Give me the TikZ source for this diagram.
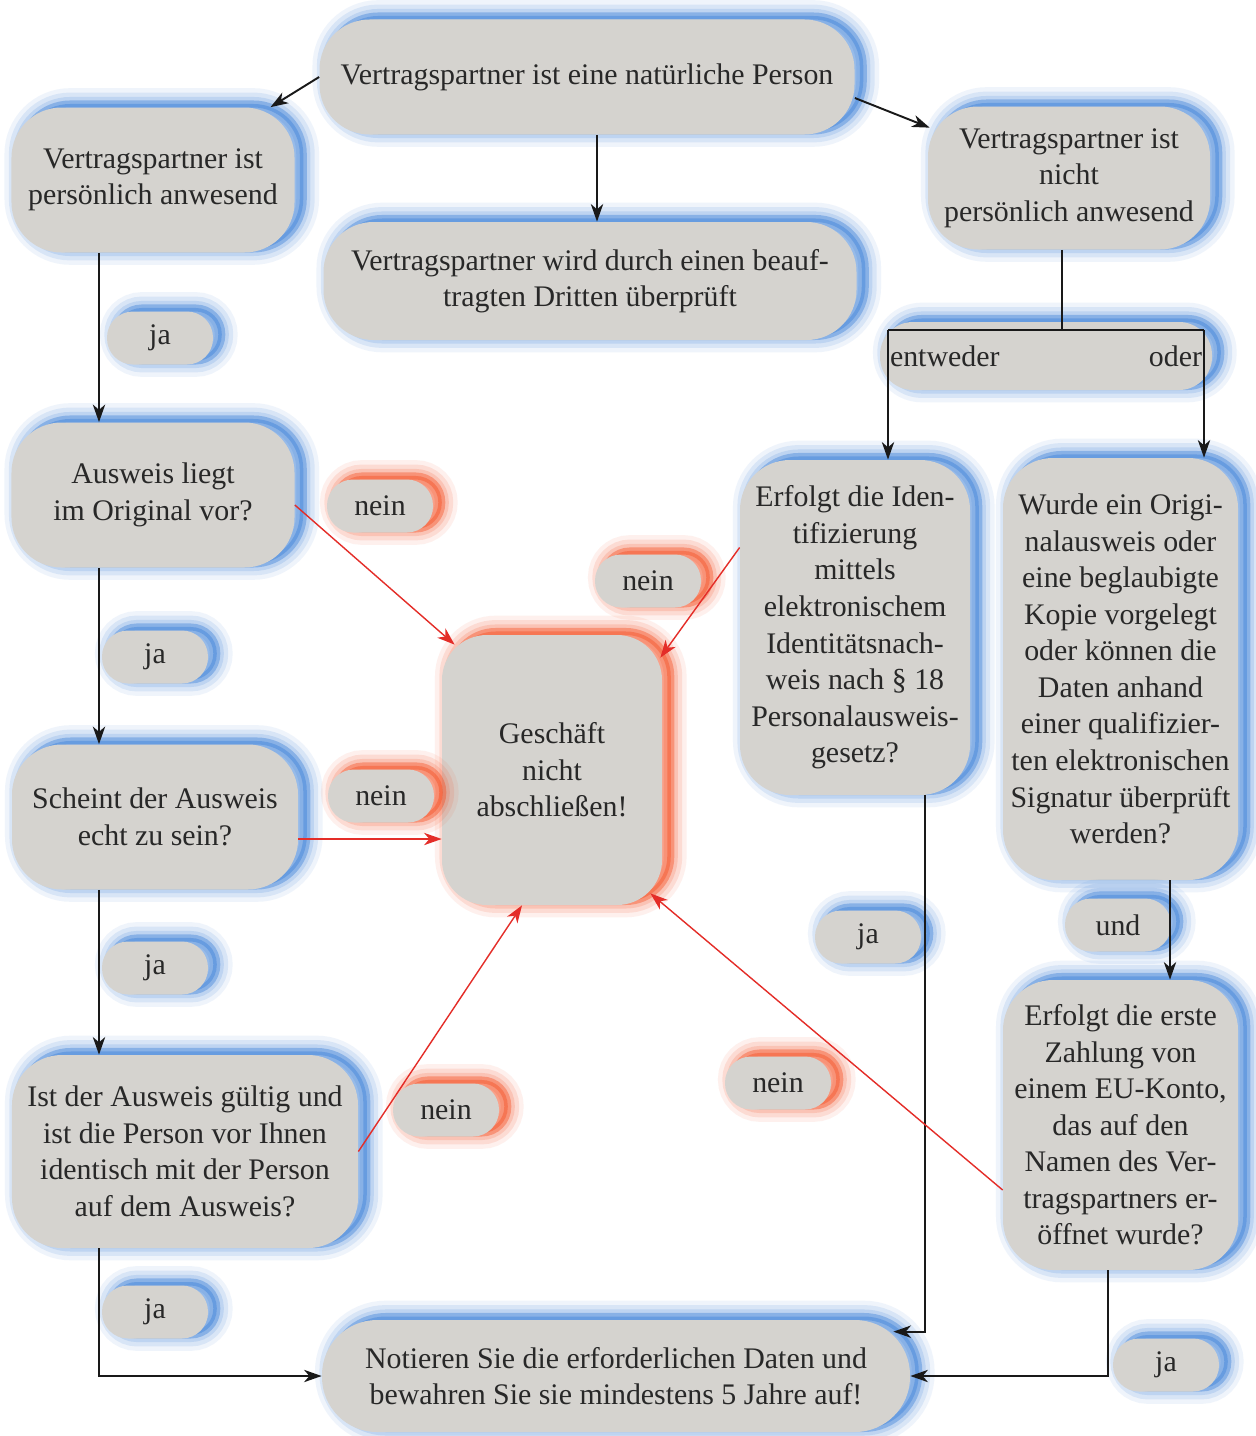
\documentclass[tikz,border=0pt]{standalone}
\usepackage{fontspec}
\setmainfont{Liberation Serif}
\definecolor{boxGrey}{RGB}{213, 211, 207}
\definecolor{glowBlue}{RGB}{55, 125, 215}
\definecolor{glowRed}{RGB}{245, 75, 30}
\definecolor{neinRed}{RGB}{228, 45, 40}
\definecolor{textGrey}{RGB}{40, 40, 40}
\usetikzlibrary{arrows.meta, calc}

\tikzset{
    glow/.style={
        preaction={draw=#1, line width=18pt, opacity=0.08, transform canvas={xshift=5pt, yshift=2pt}},
        preaction={draw=#1, line width=13pt, opacity=0.12, transform canvas={xshift=5pt, yshift=2pt}},
        preaction={draw=#1, line width=8pt, opacity=0.16, transform canvas={xshift=5pt, yshift=2pt}},
        preaction={draw=#1, fill=#1, line width=4pt, opacity=0.4, transform canvas={xshift=5pt, yshift=2pt}}
    },
    flowbox/.style={rectangle, rounded corners=1cm, fill=boxGrey, text=textGrey, align=center, inner sep=2pt, glow=#1},
    flowbox/.default=glowBlue,
    pill/.style={rectangle, rounded corners=0.52cm, fill=boxGrey, text=textGrey, minimum width=2.12cm, minimum height=1.06cm, inner sep=1pt, glow=#1},
    flowarrow/.style={line width=1.1pt, draw=black!90, -{Stealth[length=10pt, width=7pt, inset=3pt]}},
    neinarrow/.style={line width=0.8pt, draw=neinRed, -{Stealth[length=10pt, width=7pt, inset=3pt]}}
}

\begin{document}
\begin{tikzpicture}[font=\fontsize{17}{20.8}\selectfont]
    \useasboundingbox[fill=white] (0,0) rectangle (25.1,-28.72);

    \node[flowbox, minimum width=10.7cm, minimum height=2.3cm] (natural) at (11.74,-1.54) {Vertragspartner ist eine natürliche Person};
    \node[flowbox, minimum width=5.66cm, minimum height=2.9cm] (present) at (3.06,-3.6) {Vertragspartner ist\\persönlich anwesend};
    \node[flowbox, minimum width=10.66cm, minimum height=2.36cm] (third) at (11.8,-5.62) {Vertragspartner wird durch einen beauf-\\tragten Dritten überprüft};
    \node[flowbox, minimum width=5.64cm, minimum height=2.86cm] (absent) at (21.38,-3.56) {Vertragspartner ist\\nicht\\persönlich anwesend};
    \node[flowbox, rounded corners=0.66cm, minimum height=1.36cm, text width=6.24cm, inner xsep=0.2cm, align=left] (either) at (20.92,-7.12) {entweder\hfill oder};

    \node[flowbox, minimum width=5.66cm, minimum height=2.9cm] (original) at (3.06,-9.9) {Ausweis liegt\\im Original vor?};
    \node[flowbox, minimum width=5.72cm, minimum height=2.9cm] (genuine) at (3.1,-16.34) {Scheint der Ausweis\\echt zu sein?};
    \node[flowbox, minimum width=6.92cm, minimum height=3.86cm] (valid) at (3.7,-23.03) {Ist der Ausweis gültig und\\ist die Person vor Ihnen\\identisch mit der Person\\auf dem Ausweis?};
    \node[flowbox, minimum width=11.76cm, minimum height=2.24cm, rounded corners=1.1cm] (record) at (12.32,-27.52) {Notieren Sie die erforderlichen Daten und\\bewahren Sie sie mindestens 5 Jahre auf!};
    \node[flowbox=glowRed, minimum width=4.4cm, minimum height=5.4cm, rounded corners=0.9cm] (stop) at (11.04,-15.4) {Geschäft\\nicht\\abschließen!};

    \node[flowbox, minimum width=4.6cm, minimum height=6.7cm] (eid) at (17.1,-12.55) {Erfolgt die Iden-\\tifizierung\\mittels\\elektronischem\\Identitätsnach-\\weis nach § 18\\Personalausweis-\\gesetz?};
    \node[flowbox, minimum width=4.7cm, minimum height=8.44cm] (copy) at (22.41,-13.38) {Wurde ein Origi-\\nalausweis oder\\eine beglaubigte\\Kopie vorgelegt\\oder können die\\Daten anhand\\einer qualifizier-\\ten elektronischen\\Signatur überprüft\\werden?};
    \node[flowbox, minimum width=4.7cm, minimum height=5.8cm] (payment) at (22.41,-22.5) {Erfolgt die erste\\Zahlung von\\einem EU-Konto,\\das auf den\\Namen des Ver-\\tragspartners er-\\öffnet wurde?};

    \node[pill=glowBlue] (ja1) at (3.2,-6.76) {ja};
    \node[pill=glowBlue] (ja2) at (3.1,-13.14) {ja};
    \node[pill=glowBlue] (ja3) at (3.1,-19.36) {ja};
    \node[pill=glowBlue] (ja4) at (3.1,-26.24) {ja};
    \node[pill=glowBlue] (ja5) at (17.36,-18.74) {ja};
    \node[pill=glowBlue] (ja6) at (23.32,-27.3) {ja};
    \node[pill=glowBlue] (und) at (22.36,-18.5) {und};
    \node[pill=glowRed] (nein1) at (7.6,-10.12) {nein};
    \node[pill=glowRed] (nein2) at (7.62,-15.92) {nein};
    \node[pill=glowRed] (nein3) at (8.92,-22.2) {nein};
    \node[pill=glowRed] (nein4) at (12.96,-11.62) {nein};
    \node[pill=glowRed] (nein5) at (15.56,-21.66) {nein};

    \coordinate (leftRail) at (1.98,0);
    \coordinate (midRail) at (11.94,0);
    \coordinate (eidRail) at (18.5,0);
    \coordinate (payRail) at (22.16,0);
    \coordinate (undRail) at (23.4,0);
    \coordinate (fork) at (21.24,-6.6);
    \coordinate (forkL) at (17.76,-6.6);
    \coordinate (forkR) at (24.08,-6.6);

    \draw[flowarrow] (natural.west) -- (present);
    \draw[flowarrow] (natural.south -| midRail) -- (third.north -| midRail);
    \draw[flowarrow] ([yshift=-4.2mm]natural.east) -- ([shift={(0.04,-0.43)}]absent.north west);

    \draw[line width=1.1pt, black!90] (absent.south -| fork) -- (fork);
    \draw[line width=1.1pt, black!90] (forkL) -- (forkR);
    \draw[flowarrow] (forkL) -- (forkL |- eid.north);
    \draw[flowarrow] (forkR) -- (forkR |- copy.north);

    \draw[flowarrow] (present.south -| leftRail) -- (original.north -| leftRail);
    \draw[flowarrow] (original.south -| leftRail) -- (genuine.north -| leftRail);
    \draw[flowarrow] (genuine.south -| leftRail) -- (valid.north -| leftRail);
    \draw[flowarrow] (valid.south -| leftRail) |- (record.west);

    \draw[flowarrow] (eid.south -| eidRail) |- ($(record.north east)+(-0.34,-0.24)$);
    \draw[flowarrow] (copy.south -| undRail) -- (payment.north -| undRail);
    \draw[flowarrow] (payment.south -| payRail) |- (record.east);

    \draw[neinarrow] ([yshift=-2mm]original.east) -- ([shift={(0.26,-0.2)}]stop.north west);
    \draw[neinarrow] ($(genuine.east)+(0,-0.44)$) -- ($(genuine.east -| stop.west)+(0,-0.44)$);
    \draw[neinarrow] (valid.east) -- ([xshift=-6mm]stop.south);
    \draw[neinarrow] ([yshift=16mm]eid.west) -- ([shift={(-0.04,-0.46)}]stop.north east);
    \draw[neinarrow] ([yshift=-13mm]payment.west) -- ([shift={(-0.24,0.24)}]stop.south east);
\end{tikzpicture}
\end{document}
